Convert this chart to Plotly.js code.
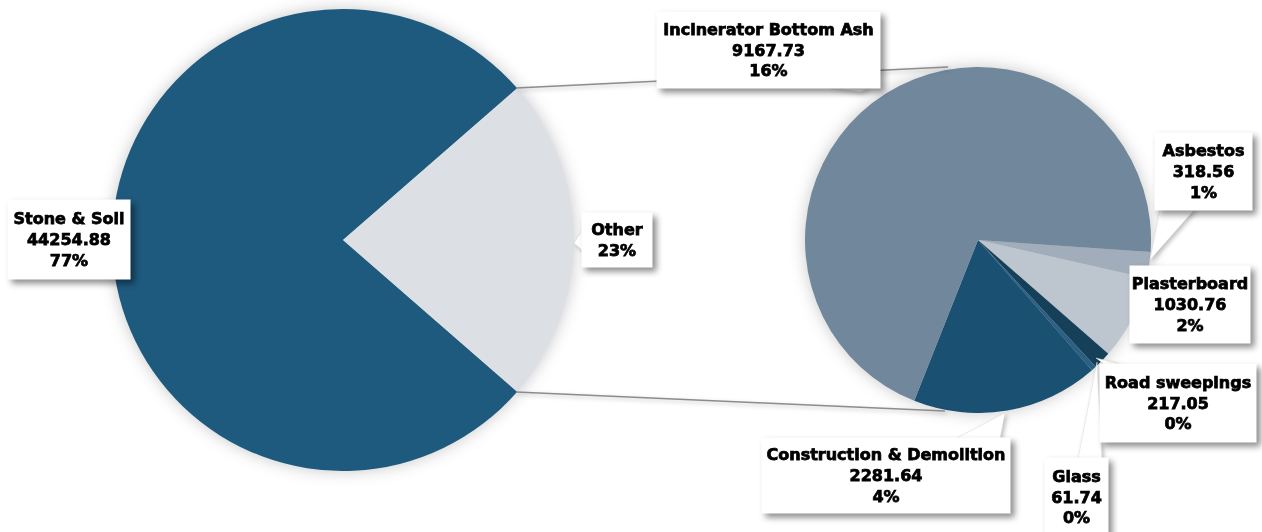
<!DOCTYPE html>
<html>
<head>
<meta charset="utf-8">
<script src="https://cdn.plot.ly/plotly-3.0.1.min.js"></script>
<style>
html,body{margin:0;padding:0;background:#fff;}
#chart{width:1262px;height:532px;}
.pielayer .trace{filter:drop-shadow(0px 0px 8px rgba(0,0,0,0.22));}
.annotation-text-g{filter:drop-shadow(4px 4px 3px rgba(0,0,0,0.45));}
.annotation-text{stroke:#000;stroke-width:0.75px;}
.shapelayer path{filter:drop-shadow(2px 2px 2px rgba(0,0,0,0.25));}
</style>
</head>
<body>
<div id="chart"></div>
<script>
// ---- data ----
const mainLabels = ["Stone & Soil", "Other"];
const mainValues = [44254.88, 13077.48];
const mainPctText = ["77%", "23%"];

const subLabels = ["Asbestos", "Plasterboard", "Road sweepings", "Glass", "Construction & Demolition", "Incinerator Bottom Ash"];
const subValues = [318.56, 1030.76, 217.05, 61.74, 2281.64, 9167.73];
const subPctText = ["1%", "2%", "0%", "0%", "4%", "16%"];

const mainColors = ["#1e5a7e", "#dcdfe4"];
const subColors = ["#a1adba", "#bdc5ce", "#163f59", "#2b6085", "#1a5072", "#71889c"];

// ---- layout helpers ----
const W = 1262, H = 532;
const px = x => x / W;
const py = y => 1 - y / H;

const otherFrac = mainValues[1] / (mainValues[0] + mainValues[1]);

const traces = [
  {
    type: "pie", labels: mainLabels, values: mainValues, sort: false,
    direction: "clockwise", rotation: 90 + otherFrac * 180,
    marker: {colors: mainColors, line: {width: 0}},
    textinfo: "none", showlegend: false,
    domain: {x: [px(112), px(574)], y: [py(471), py(9)]}
  },
  {
    type: "pie", labels: subLabels, values: subValues, sort: false,
    direction: "clockwise", rotation: 94,
    marker: {colors: subColors, line: {width: 0}},
    textinfo: "none", showlegend: false,
    domain: {x: [px(805), px(1151)], y: [py(413), py(67)]}
  }
];

function box(cx, cy, w, h, text) {
  return {
    xref: "paper", yref: "paper", x: px(cx), y: py(cy), xanchor: "center", yanchor: "middle",
    text: text, showarrow: false, width: w, height: h, bgcolor: "#ffffff", borderpad: 0,
    font: {family: "DejaVu Sans", size: 16, color: "#000", weight: "bold"}, align: "center"
  };
}
const annotations = [
  box(69, 239.5, 122, 79, mainLabels[0] + "<br>" + mainValues[0].toFixed(2) + "<br>" + mainPctText[0]),
  box(617, 240, 70, 54, mainLabels[1] + "<br>" + mainPctText[1]),
  box(768.5, 50, 223, 76, subLabels[5] + "<br>" + subValues[5].toFixed(2) + "<br>" + subPctText[5]),
  box(1203.5, 171.5, 97, 77, subLabels[0] + "<br>" + subValues[0].toFixed(2) + "<br>" + subPctText[0]),
  box(1190, 304.5, 120, 77, subLabels[1] + "<br>" + subValues[1].toFixed(2) + "<br>" + subPctText[1]),
  box(1178, 403, 156, 78, subLabels[2] + "<br>" + subValues[2].toFixed(2) + "<br>" + subPctText[2]),
  box(1076.5, 497, 63, 78, subLabels[3] + "<br>" + subValues[3].toFixed(2) + "<br>" + subPctText[3]),
  box(886, 475.5, 248, 75, subLabels[4] + "<br>" + subValues[4].toFixed(2) + "<br>" + subPctText[4])
];

function wedge(pts) {
  let d = "M " + pts.map(p => px(p[0]) + "," + py(p[1])).join(" L ") + " Z";
  return {type: "path", xref: "paper", yref: "paper", path: d,
    fillcolor: "#ffffff", line: {color: "rgba(215,215,215,0.8)", width: 0.6}, layer: "above"};
}
function seg(x0, y0, x1, y1) {
  return {type: "line", xref: "paper", yref: "paper", x0: px(x0), y0: py(y0), x1: px(x1), y1: py(y1),
    line: {color: "#8c8c8c", width: 1.5}, layer: "above"};
}
const shapes = [
  seg(516, 88, 948, 67),
  seg(516, 392, 945, 411),
  wedge([[584, 228], [574, 243], [584, 252]]),
  wedge([[830, 88], [860, 92], [870, 88]]),
  wedge([[1160, 209], [1150, 260], [1195, 209]]),
  wedge([[1104, 364], [1096, 358], [1120, 364]]),
  wedge([[1078, 459], [1097, 362], [1102, 459]]),
  wedge([[955, 439], [1005, 413], [1000, 439]])
];

const layout = {
  width: W, height: H,
  margin: {l: 0, r: 0, t: 0, b: 0},
  paper_bgcolor: "#ffffff", plot_bgcolor: "#ffffff",
  showlegend: false,
  annotations: annotations,
  shapes: shapes
};

Plotly.newPlot("chart", traces, layout, {displayModeBar: false, staticPlot: true});
</script>
</body>
</html>
